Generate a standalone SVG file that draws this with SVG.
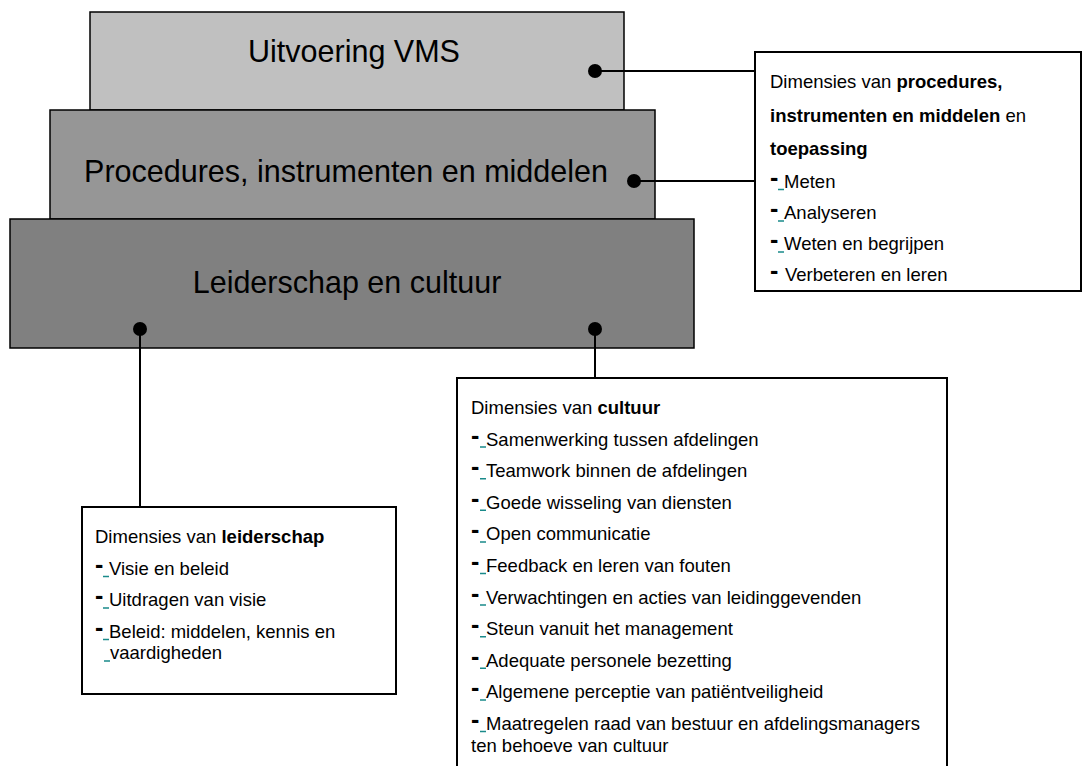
<svg xmlns="http://www.w3.org/2000/svg" width="1083" height="766" viewBox="0 0 1083 766">
<style>
.layer{stroke:#000;stroke-width:1.5}
.title{font-family:"Liberation Sans",Arial,sans-serif;font-size:30.5px;fill:#000;text-anchor:middle}
.box{fill:#fff;stroke:#000;stroke-width:2}
.t{font-family:"Liberation Sans",Arial,sans-serif;font-size:18.5px;fill:#000}
.b{font-weight:bold}
.d{font-size:25px;font-weight:bold}
.ul{stroke:#1a8a8a;stroke-width:1.5;fill:none}
.con{stroke:#000;stroke-width:2;fill:none}
.dot{fill:#000}
</style>
<g id="layer-uitvoering">
<rect class="layer" x="90" y="12" width="534" height="98" fill="#c0c0c0"/>
<text class="title" x="354" y="62">Uitvoering VMS</text>
</g>
<g id="layer-procedures">
<rect class="layer" x="50" y="110" width="605" height="109" fill="#969696"/>
<text class="title" x="346" y="182">Procedures, instrumenten en middelen</text>
</g>
<g id="layer-leiderschap">
<rect class="layer" x="10" y="219" width="684" height="129" fill="#808080"/>
<text class="title" x="347" y="293">Leiderschap en cultuur</text>
</g>
<g id="connectors">
<path class="con" d="M595 71H755M634 181H755M140 329V507M595 329V378"/>
<circle class="dot" cx="595" cy="71" r="7"/>
<circle class="dot" cx="634" cy="181" r="7"/>
<circle class="dot" cx="140" cy="329" r="7"/>
<circle class="dot" cx="595" cy="329" r="7"/>
</g>
<g id="box-procedures">
<rect class="box" x="755" y="52" width="326" height="239"/>
<text class="t" x="770" y="88">Dimensies van <tspan class="b">procedures,</tspan></text>
<text class="t b" x="770" y="121.5">instrumenten en middelen <tspan font-weight="normal">en</tspan></text>
<text class="t b" x="770" y="155">toepassing</text>
<text class="t" x="770" y="187.5"><tspan class="d" dy="-2">-</tspan><tspan x="784" dy="2">Meten</tspan></text>
<text class="t" x="770" y="219"><tspan class="d" dy="-2">-</tspan><tspan x="784" dy="2">Analyseren</tspan></text>
<text class="t" x="770" y="250"><tspan class="d" dy="-2">-</tspan><tspan x="784" dy="2">Weten en begrijpen</tspan></text>
<text class="t" x="770" y="281"><tspan class="d" dy="-2">-</tspan><tspan x="785" dy="2">Verbeteren en leren</tspan></text>
<path class="ul" d="M778 189.5h6M778 221h6M778 252h6"/>
</g>
<g id="box-leiderschap">
<rect class="box" x="82" y="507" width="314" height="187"/>
<text class="t" x="95" y="543">Dimensies van <tspan class="b">leiderschap</tspan></text>
<text class="t" x="95" y="574.5"><tspan class="d" dy="-2">-</tspan><tspan x="109" dy="2">Visie en beleid</tspan></text>
<text class="t" x="95" y="606"><tspan class="d" dy="-2">-</tspan><tspan x="109" dy="2">Uitdragen van visie</tspan></text>
<text class="t" x="95" y="637.5"><tspan class="d" dy="-2">-</tspan><tspan x="109" dy="2">Beleid: middelen, kennis en</tspan></text>
<text class="t" x="110" y="659">vaardigheden</text>
<path class="ul" d="M103 576.5h6M103 608h6M103 639.5h6M104 661h6"/>
</g>
<g id="box-cultuur">
<rect class="box" x="457" y="378" width="490" height="400"/>
<text class="t" x="471" y="414">Dimensies van <tspan class="b">cultuur</tspan></text>
<text class="t" x="471" y="445.6"><tspan class="d" dy="-2">-</tspan><tspan x="486" dy="2">Samenwerking tussen afdelingen</tspan></text>
<text class="t" x="471" y="477.2"><tspan class="d" dy="-2">-</tspan><tspan x="486" dy="2">Teamwork binnen de afdelingen</tspan></text>
<text class="t" x="471" y="508.8"><tspan class="d" dy="-2">-</tspan><tspan x="486" dy="2">Goede wisseling van diensten</tspan></text>
<text class="t" x="471" y="540.4"><tspan class="d" dy="-2">-</tspan><tspan x="486" dy="2">Open communicatie</tspan></text>
<text class="t" x="471" y="572"><tspan class="d" dy="-2">-</tspan><tspan x="486" dy="2">Feedback en leren van fouten</tspan></text>
<text class="t" x="471" y="603.6"><tspan class="d" dy="-2">-</tspan><tspan x="486" dy="2">Verwachtingen en acties van leidinggevenden</tspan></text>
<text class="t" x="471" y="635.2"><tspan class="d" dy="-2">-</tspan><tspan x="486" dy="2">Steun vanuit het management</tspan></text>
<text class="t" x="471" y="666.8"><tspan class="d" dy="-2">-</tspan><tspan x="486" dy="2">Adequate personele bezetting</tspan></text>
<text class="t" x="471" y="698.4"><tspan class="d" dy="-2">-</tspan><tspan x="486" dy="2">Algemene perceptie van patiëntveiligheid</tspan></text>
<text class="t" x="471" y="730"><tspan class="d" dy="-2">-</tspan><tspan x="486" dy="2">Maatregelen raad van bestuur en afdelingsmanagers</tspan></text>
<text class="t" x="471" y="752">ten behoeve van cultuur</text>
<path class="ul" d="M480 447.1h6M480 478.7h6M480 510.3h6M480 541.9h6M480 573.5h6M480 605.1h6M480 636.7h6M480 668.3h6M480 699.9h6M480 731.5h6"/>
</g>
</svg>
